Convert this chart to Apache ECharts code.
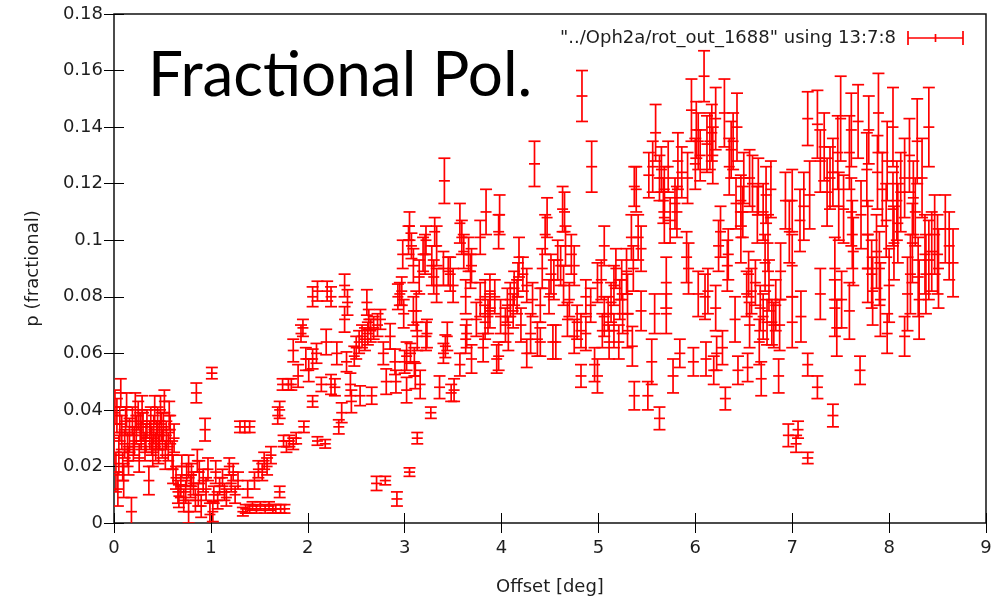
<!DOCTYPE html>
<html>
<head>
<meta charset="utf-8">
<script src="https://cdn.jsdelivr.net/npm/echarts@6/dist/echarts.min.js"></script>
<style>
html,body{margin:0;padding:0;background:#fff;}
#chart{width:1008px;height:601px;}
</style>
</head>
<body>
<div id="chart"></div>
<script>
// Offset [deg]
const offsets = [
0.00,0.02,0.03,0.04,0.05,0.07,0.08,0.09,0.11,0.12,
0.14,0.16,0.18,0.19,0.21,0.23,0.25,0.26,0.28,0.30,
0.32,0.34,0.36,0.37,0.39,0.41,0.43,0.45,0.47,0.49,
0.50,0.52,0.54,0.56,0.58,0.60,0.62,0.64,0.66,0.67,
0.69,0.70,0.72,0.74,0.75,0.77,0.77,0.79,0.80,0.82,
0.84,0.85,0.86,0.87,0.88,0.90,0.92,0.94,0.95,0.97,
0.99,1.01,1.02,1.03,1.05,1.07,1.09,1.12,1.14,1.16,
1.19,1.21,1.23,1.25,1.28,1.30,1.33,1.35,1.36,1.38,
1.40,1.40,1.43,1.45,1.47,1.49,1.51,1.53,1.55,1.56,
1.58,1.60,1.62,1.64,1.67,1.69,1.71,1.71,1.72,1.74,
1.75,1.76,1.78,1.80,1.81,1.83,1.85,1.85,1.88,1.90,
1.93,1.95,1.96,1.98,2.01,2.05,2.05,2.05,2.09,2.10,
2.10,2.14,2.18,2.19,2.20,2.24,2.24,2.28,2.30,2.32,
2.35,2.38,2.38,2.40,2.41,2.44,2.45,2.48,2.50,2.53,
2.54,2.56,2.59,2.61,2.62,2.63,2.65,2.66,2.68,2.71,
2.72,2.75,2.78,2.80,2.81,2.85,2.90,2.91,2.92,2.93,
2.95,2.97,2.98,2.99,3.00,3.02,3.02,3.04,3.05,3.05,
3.06,3.07,3.09,3.09,3.10,3.11,3.12,3.13,3.13,3.15,
3.16,3.19,3.21,3.22,3.22,3.23,3.27,3.28,3.30,3.31,
3.33,3.33,3.36,3.40,3.40,3.41,3.42,3.44,3.45,3.47,
3.48,3.50,3.51,3.57,3.57,3.59,3.61,3.63,3.63,3.64,
3.66,3.68,3.69,3.69,3.74,3.78,3.78,3.81,3.83,3.83,
3.84,3.86,3.88,3.88,3.93,3.95,3.97,3.97,3.98,3.99,
4.04,4.06,4.07,4.09,4.12,4.13,4.16,4.17,4.18,4.20,
4.22,4.26,4.26,4.30,4.32,4.34,4.37,4.40,4.40,4.42,
4.45,4.47,4.49,4.51,4.53,4.54,4.56,4.58,4.61,4.63,
4.64,4.65,4.66,4.68,4.70,4.72,4.75,4.75,4.78,4.83,
4.82,4.82,4.87,4.87,4.92,4.93,4.96,4.99,4.99,5.03,
5.04,5.06,5.06,5.10,5.11,5.13,5.16,5.16,5.18,5.21,
5.22,5.24,5.25,5.29,5.30,5.30,5.34,5.35,5.36,5.37,
5.37,5.39,5.41,5.44,5.44,5.51,5.52,5.55,5.56,5.58,
5.59,5.63,5.63,5.65,5.67,5.68,5.68,5.70,5.70,5.72,
5.74,5.77,5.79,5.81,5.82,5.84,5.86,5.91,5.92,5.93,
5.96,5.98,6.00,6.01,6.03,6.03,6.05,6.09,6.10,6.11,
6.12,6.13,6.15,6.17,6.18,6.19,6.21,6.21,6.22,6.24,
6.26,6.28,6.30,6.31,6.33,6.34,6.35,6.37,6.39,6.41,
6.42,6.43,6.44,6.47,6.47,6.49,6.50,6.53,6.54,6.55,
6.56,6.56,6.58,6.59,6.62,6.64,6.65,6.67,6.68,6.70,
6.70,6.72,6.73,6.74,6.75,6.76,6.78,6.79,6.81,6.83,
6.86,6.87,6.66,6.88,6.93,6.96,6.97,7.00,7.00,7.00,
7.04,7.06,7.08,7.09,7.12,7.16,7.16,7.16,7.18,7.26,
7.26,7.29,7.29,7.33,7.39,7.42,7.42,7.44,7.44,7.46,
7.47,7.48,7.50,7.51,7.53,7.59,7.59,7.61,7.61,7.62,
7.63,7.68,7.70,7.71,7.77,7.78,7.78,7.79,7.82,7.83,
7.87,7.88,7.89,7.90,7.91,7.97,7.98,7.98,8.00,8.04,
8.04,8.05,8.08,8.09,8.12,8.16,8.16,8.19,8.21,8.22,
8.24,8.25,8.27,8.29,8.30,8.31,8.37,8.38,8.41,8.41,
8.44,8.47,8.50,8.51,8.58,8.62,8.66,8.34,7.93,7.36,
0.01,0.06,0.10,0.13,0.15,0.20,0.22,0.27,0.29,0.33,
0.38,0.40,0.42,0.44,0.46,0.48,0.51,0.53,0.57,0.61
];
// p (fractional)
const pFractional = [
0.030,0.018,0.038,0.012,0.024,0.046,0.032,0.020,0.028,0.036,
0.026,0.031,0.004,0.036,0.029,0.033,0.038,0.023,0.031,0.034,
0.027,0.035,0.015,0.031,0.029,0.033,0.027,0.036,0.031,0.034,
0.028,0.043,0.031,0.027,0.033,0.024,0.030,0.016,0.011,0.0095,
0.013,0.020,0.008,0.011,0.017,0.004,0.020,0.013,0.017,0.014,
0.008,0.046,0.022,0.010,0.018,0.006,0.015,0.033,0.012,0.019,
0.003,0.053,0.004,0.010,0.018,0.008,0.013,0.016,0.011,0.009,
0.020,0.014,0.018,0.010,0.015,0.034,0.004,0.034,0.005,0.012,
0.034,0.005,0.006,0.015,0.005,0.019,0.006,0.018,0.022,0.005,
0.020,0.006,0.024,0.005,0.005,0.038,0.011,0.040,0.005,0.049,
0.029,0.005,0.027,0.049,0.029,0.049,0.061,0.028,0.030,0.052,
0.067,0.069,0.034,0.058,0.054,0.080,0.058,0.043,0.060,0.082,
0.029,0.049,0.028,0.064,0.082,0.080,0.049,0.048,0.060,0.034,
0.039,0.084,0.072,0.057,0.078,0.049,0.043,0.059,0.062,0.064,
0.045,0.066,0.065,0.078,0.067,0.072,0.068,0.045,0.069,0.014,
0.070,0.072,0.060,0.015,0.050,0.066,0.057,0.050,0.0085,0.080,
0.081,0.082,0.095,0.074,0.057,0.047,0.059,0.100,0.105,0.018,
0.060,0.098,0.091,0.075,0.057,0.052,0.075,0.030,0.066,0.087,
0.049,0.095,0.095,0.066,0.100,0.067,0.039,0.091,0.087,0.103,
0.098,0.084,0.048,0.060,0.090,0.121,0.0625,0.066,0.089,0.088,
0.046,0.084,0.047,0.106,0.056,0.101,0.096,0.080,0.065,0.067,
0.095,0.089,0.091,0.058,0.072,0.079,0.101,0.062,0.080,0.071,
0.110,0.073,0.082,0.075,0.080,0.058,0.103,0.059,0.109,0.073,
0.070,0.077,0.067,0.079,0.075,0.083,0.080,0.086,0.094,0.070,
0.088,0.084,0.060,0.067,0.079,0.127,0.065,0.077,0.064,0.090,
0.102,0.108,0.080,0.088,0.064,0.086,0.064,0.093,0.091,0.111,
0.084,0.110,0.098,0.072,0.079,0.095,0.091,0.066,0.071,0.151,
0.068,0.052,0.080,0.067,0.077,0.126,0.056,0.052,0.085,0.086,
0.068,0.098,0.073,0.074,0.064,0.078,0.084,0.068,0.090,0.064,
0.079,0.086,0.074,0.089,0.081,0.068,0.101,0.0625,0.090,0.119,
0.045,0.118,0.101,0.097,0.075,0.045,0.123,0.057,0.126,0.074,
0.138,0.122,0.037,0.125,0.114,0.118,0.108,0.074,0.085,0.126,
0.107,0.052,0.113,0.110,0.128,0.060,0.124,0.094,0.122,0.090,
0.146,0.057,0.127,0.139,0.135,0.081,0.130,0.158,0.080,0.058,
0.134,0.082,0.135,0.138,0.130,0.054,0.143,0.076,0.060,0.098,
0.103,0.062,0.145,0.044,0.091,0.095,0.126,0.132,0.135,0.072,
0.113,0.140,0.054,0.101,0.114,0.110,0.122,0.081,0.055,0.088,
0.122,0.070,0.082,0.120,0.085,0.109,0.119,0.076,0.051,0.110,
0.073,0.092,0.116,0.071,0.099,0.084,0.118,0.071,0.070,0.077,
0.052,0.070,0.064,0.089,0.114,0.031,0.103,0.114,0.091,0.071,
0.028,0.033,0.107,0.073,0.112,0.143,0.056,0.023,0.116,0.141,
0.048,0.128,0.081,0.133,0.122,0.124,0.038,0.090,0.076,0.069,
0.131,0.112,0.143,0.079,0.111,0.131,0.075,0.139,0.110,0.102,
0.096,0.142,0.054,0.109,0.125,0.102,0.090,0.139,0.088,0.082,
0.096,0.124,0.145,0.090,0.079,0.107,0.128,0.067,0.084,0.140,
0.111,0.099,0.114,0.106,0.117,0.066,0.122,0.081,0.130,0.088,
0.099,0.115,0.110,0.135,0.087,0.079,0.095,0.088,0.140,0.093,
0.096,0.102,0.095,0.090,0.104,0.098,0.092,0.122,0.118,0.117,
0.041,0.035,0.015,0.040,0.022,0.027,0.040,0.034,0.040,0.030,
0.036,0.025,0.040,0.031,0.026,0.040,0.034,0.024,0.038,0.019
];
// error (half-length of bar)
const pError = [
0.009,0.007,0.006,0.006,0.007,0.005,0.006,0.005,0.005,0.005,
0.006,0.006,0.005,0.005,0.005,0.005,0.005,0.005,0.005,0.005,
0.005,0.005,0.005,0.005,0.005,0.005,0.005,0.005,0.005,0.005,
0.005,0.004,0.005,0.005,0.005,0.005,0.005,0.004,0.004,0.004,
0.004,0.004,0.004,0.004,0.004,0.004,0.004,0.004,0.004,0.004,
0.004,0.0035,0.004,0.004,0.004,0.004,0.004,0.004,0.004,0.004,
0.004,0.002,0.0035,0.003,0.004,0.003,0.003,0.003,0.003,0.003,
0.003,0.003,0.003,0.003,0.003,0.002,0.0015,0.002,0.0015,0.003,
0.002,0.0015,0.0015,0.003,0.0015,0.003,0.0015,0.003,0.003,0.0015,
0.003,0.0015,0.003,0.0015,0.0015,0.003,0.002,0.003,0.0015,0.002,
0.002,0.0015,0.002,0.002,0.002,0.002,0.004,0.002,0.002,0.004,
0.003,0.003,0.002,0.004,0.004,0.0035,0.0035,0.002,0.0035,0.0035,
0.0015,0.0025,0.0015,0.0045,0.0035,0.0035,0.0035,0.003,0.004,0.0025,
0.0035,0.004,0.0045,0.0035,0.0045,0.004,0.004,0.0035,0.004,0.004,
0.0035,0.004,0.004,0.0045,0.004,0.0035,0.004,0.003,0.004,0.0025,
0.004,0.0035,0.004,0.0015,0.0045,0.0045,0.0045,0.004,0.0025,0.0045,
0.004,0.005,0.005,0.005,0.004,0.0045,0.005,0.005,0.005,0.0015,
0.0035,0.0045,0.006,0.005,0.005,0.0045,0.007,0.002,0.005,0.006,
0.005,0.006,0.007,0.005,0.005,0.005,0.002,0.007,0.006,0.005,
0.007,0.006,0.004,0.0035,0.006,0.008,0.004,0.005,0.005,0.006,
0.003,0.006,0.004,0.007,0.004,0.006,0.006,0.006,0.005,0.005,
0.006,0.006,0.006,0.005,0.006,0.006,0.006,0.005,0.006,0.006,
0.008,0.006,0.006,0.006,0.006,0.005,0.006,0.005,0.007,0.006,
0.006,0.006,0.006,0.006,0.006,0.006,0.006,0.006,0.007,0.006,
0.006,0.006,0.005,0.007,0.006,0.008,0.006,0.006,0.005,0.007,
0.007,0.007,0.006,0.007,0.006,0.007,0.006,0.007,0.007,0.008,
0.007,0.007,0.007,0.006,0.006,0.007,0.007,0.006,0.006,0.009,
0.006,0.004,0.006,0.006,0.006,0.009,0.006,0.006,0.007,0.007,
0.006,0.007,0.007,0.006,0.006,0.007,0.007,0.006,0.007,0.006,
0.007,0.007,0.007,0.008,0.007,0.006,0.008,0.007,0.008,0.007,
0.005,0.008,0.008,0.008,0.007,0.005,0.008,0.008,0.009,0.007,
0.010,0.008,0.004,0.008,0.008,0.008,0.009,0.007,0.009,0.009,
0.008,0.006,0.009,0.009,0.010,0.005,0.009,0.009,0.009,0.009,
0.011,0.005,0.009,0.010,0.010,0.008,0.009,0.009,0.008,0.006,
0.010,0.008,0.010,0.010,0.010,0.005,0.011,0.008,0.006,0.009,
0.009,0.006,0.012,0.004,0.009,0.009,0.010,0.010,0.010,0.008,
0.009,0.012,0.005,0.009,0.009,0.009,0.009,0.008,0.005,0.008,
0.010,0.008,0.008,0.010,0.008,0.010,0.010,0.008,0.006,0.010,
0.008,0.010,0.010,0.008,0.010,0.009,0.010,0.008,0.008,0.009,
0.006,0.009,0.008,0.010,0.010,0.004,0.011,0.011,0.011,0.009,
0.003,0.003,0.011,0.009,0.012,0.0095,0.004,0.002,0.012,0.012,
0.004,0.011,0.009,0.012,0.011,0.012,0.004,0.011,0.010,0.010,
0.013,0.012,0.015,0.010,0.012,0.013,0.010,0.013,0.012,0.012,
0.012,0.013,0.005,0.012,0.013,0.012,0.012,0.012,0.012,0.012,
0.013,0.013,0.014,0.013,0.013,0.013,0.014,0.007,0.013,0.014,
0.013,0.013,0.014,0.014,0.014,0.007,0.014,0.013,0.013,0.014,
0.014,0.013,0.012,0.015,0.014,0.014,0.014,0.014,0.014,0.014,
0.014,0.014,0.014,0.014,0.012,0.012,0.012,0.014,0.013,0.012,
0.006,0.006,0.006,0.006,0.005,0.005,0.006,0.005,0.005,0.005,
0.005,0.005,0.005,0.005,0.005,0.005,0.005,0.005,0.005,0.005
];
const xTicks = {min: 0, max: 9, interval: 1};
const yTicks = {min: 0, max: 0.18, interval: 0.02};
const xName = 'Offset [deg]';
const yName = 'p (fractional)';
const legendText = '"../Oph2a/rot_out_1688" using 13:7:8';
const titleText = 'Fractional Pol.';

const n = Math.min(offsets.length, pFractional.length, pError.length);
const data = [];
for (let i = 0; i < n; i++) data.push([offsets[i], pFractional[i], pError[i]]);

const RED = '#ff0000';
const TXT = '#1e1e1e';
const FONT = 'DejaVu Sans';
const LW = 1.7;

function seg(x1, y1, x2, y2) {
  return {type: 'line', shape: {x1, y1, x2, y2}, style: {stroke: RED, lineWidth: LW}};
}
function renderItem(params, api) {
  const x = api.value(0), y = api.value(1), e = api.value(2);
  const c = api.coord([x, y]);
  const top = api.coord([x, y + e])[1];
  const bot = api.coord([x, y - e])[1];
  const hw = 6, pw = 5.5;
  return {type: 'group', children: [
    seg(c[0], top, c[0], bot),
    seg(c[0] - hw, top, c[0] + hw, top),
    seg(c[0] - hw, bot, c[0] + hw, bot),
    seg(c[0] - pw, c[1], c[0] + pw, c[1])
  ]};
}

const chart = echarts.init(document.getElementById('chart'), null, {renderer: 'canvas'});
const tickStyle = {inside: true, length: 10, lineStyle: {color: '#000', width: 1}};
chart.setOption({
  animation: false,
  backgroundColor: '#fff',
  grid: {left: 114, right: 22, top: 14, bottom: 78, show: true, borderColor: '#111', borderWidth: 1.5, backgroundColor: 'transparent'},
  xAxis: [
    {type: 'value', min: xTicks.min, max: xTicks.max, interval: xTicks.interval, position: 'bottom',
     axisLine: {show: false}, axisTick: tickStyle, splitLine: {show: false},
     axisLabel: {margin: 16, fontFamily: FONT, fontSize: 18, color: TXT},
     name: xName, nameLocation: 'middle', nameGap: 55,
     nameTextStyle: {fontFamily: FONT, fontSize: 18, color: TXT}},
    {type: 'value', min: xTicks.min, max: xTicks.max, interval: xTicks.interval, position: 'top',
     axisLine: {show: false}, axisTick: tickStyle, splitLine: {show: false}, axisLabel: {show: false}}
  ],
  yAxis: [
    {type: 'value', min: yTicks.min, max: yTicks.max, interval: yTicks.interval, position: 'left',
     axisLine: {show: false}, axisTick: tickStyle, splitLine: {show: false},
     axisLabel: {margin: 11, fontFamily: FONT, fontSize: 18, color: TXT,
       formatter: v => String(+v.toFixed(2))},
     name: yName, nameLocation: 'middle', nameGap: 72, nameRotate: 90,
     nameTextStyle: {fontFamily: FONT, fontSize: 18, color: TXT}},
    {type: 'value', min: yTicks.min, max: yTicks.max, interval: yTicks.interval, position: 'right',
     axisLine: {show: false}, axisTick: tickStyle, splitLine: {show: false}, axisLabel: {show: false}}
  ],
  series: [{
    type: 'custom', xAxisIndex: 0, yAxisIndex: 0, clip: true,
    renderItem: renderItem, data: data, encode: {x: 0, y: 1}
  }],
  graphic: [
    {type: 'text', left: 148, top: 45, style: {text: titleText, font: '62px Lato', fill: '#000'}},
    {type: 'text', x: 896, y: 38, style: {text: legendText, font: '18px ' + FONT, fill: TXT, textAlign: 'right', textVerticalAlign: 'middle'}},
    {type: 'line', shape: {x1: 908, y1: 38, x2: 963, y2: 38}, style: {stroke: RED, lineWidth: LW}},
    {type: 'line', shape: {x1: 908, y1: 31, x2: 908, y2: 45}, style: {stroke: RED, lineWidth: LW}},
    {type: 'line', shape: {x1: 963, y1: 31, x2: 963, y2: 45}, style: {stroke: RED, lineWidth: LW}},
    {type: 'line', shape: {x1: 935.5, y1: 34, x2: 935.5, y2: 42}, style: {stroke: RED, lineWidth: LW}}
  ]
});
</script>
</body>
</html>
